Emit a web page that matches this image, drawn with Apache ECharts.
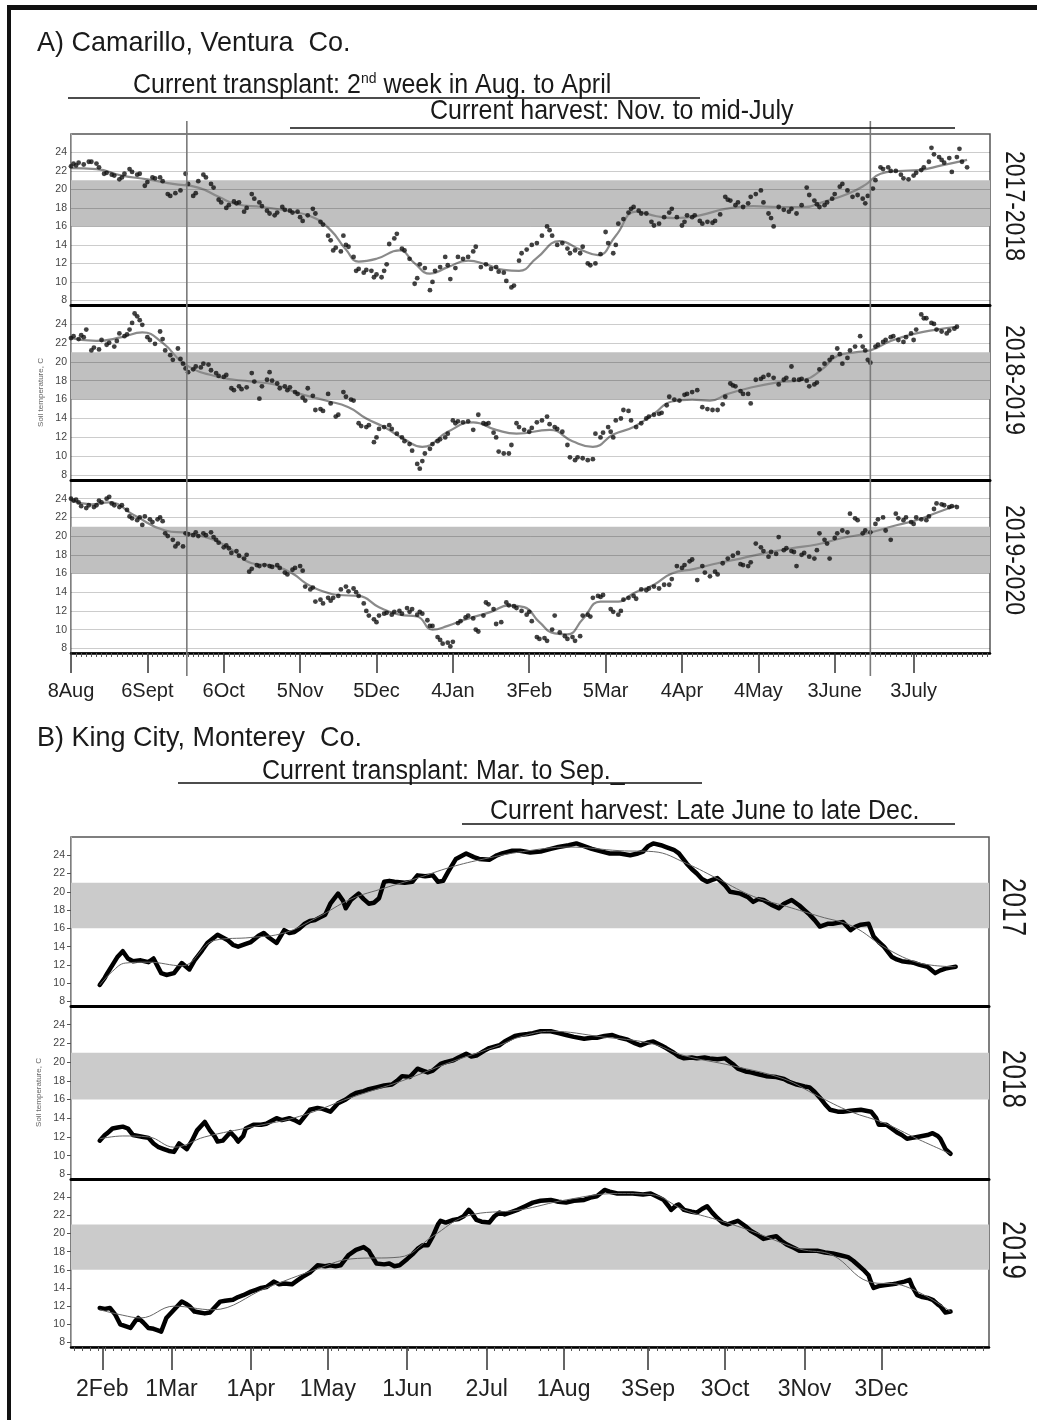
<!DOCTYPE html>
<html><head><meta charset="utf-8">
<script src="https://cdn.jsdelivr.net/npm/echarts@6/dist/echarts.min.js"></script>
<style>html,body{margin:0;padding:0;background:#fff;}#c{width:1037px;height:1420px;}</style>
</head><body><div id="c"></div>
<script>
// ---------------- DATA ----------------
// Panel A: Camarillo, x = days after 8 Aug
const aTickDays = [0,30,60,90,120,150,180,210,240,270,300,331];
const aTickLabels = ['8Aug','6Sept','6Oct','5Nov','5Dec','4Jan','3Feb','5Mar','4Apr','4May','3June','3July'];
const aSeasons = ['2017-2018','2018-2019','2019-2020'];
const aVerticalDays = [45.5, 314];

const a1Daily = [[0,22.5],[1,22.8],[2,22.6],[3,22.9],[5,22.7],[7,23.0],[8,23.0],[10,22.8],[11,22.4],[13,21.7],[14,21.8],[16,21.6],[17,21.5],[19,21.1],[20,21.3],[21,21.7],[23,22.2],[24,21.9],[26,21.6],[27,21.7],[29,20.4],[30,20.8],[32,21.3],[33,21.2],[35,21.3],[36,20.9],[38,19.5],[39,19.3],[41,19.6],[43,19.9],[45,21.7],[46,20.6],[48,19.3],[49,19.6],[50,20.9],[52,21.6],[53,21.3],[55,20.6],[56,20.2],[58,18.9],[59,18.6],[61,18.0],[62,18.3],[64,18.7],[65,18.5],[66,18.6],[68,17.6],[69,18.0],[71,19.5],[72,19.0],[74,18.6],[75,18.2],[77,17.7],[78,17.4],[80,17.2],[81,17.5],[83,18.1],[84,17.8],[86,17.7],[87,17.5],[89,17.6],[90,17.0],[91,16.6],[93,17.2],[95,17.9],[96,17.4],[98,16.5],[99,16.2],[101,15.0],[102,14.5],[103,13.4],[104,13.7],[106,13.3],[107,15.0],[108,14.0],[109,13.8],[111,12.7],[112,11.2],[113,11.4],[115,11.0],[116,11.3],[118,11.2],[119,10.5],[120,10.8],[122,10.5],[123,11.2],[124,11.9],[125,14.1],[127,14.7],[128,15.2],[130,13.6],[131,13.4],[133,12.5],[135,9.8],[136,10.4],[137,11.9],[139,11.5],[141,9.1],[142,10.0],[143,11.2],[145,11.6],[147,12.7],[148,11.8],[149,10.3],[151,11.5],[152,12.7],[154,12.5],[156,12.7],[158,13.3],[159,13.8],[161,11.6],[163,11.9],[165,11.4],[167,11.6],[168,11.1],[170,11.0],[171,10.1],[173,9.4],[174,9.6],[176,12.3],[177,13.1],[179,13.5],[181,14.0],[183,14.2],[185,15.0],[187,16.0],[188,15.6],[189,15.0],[191,14.0],[193,14.2],[195,13.6],[196,13.1],[198,13.4],[200,13.1],[201,13.8],[203,12.0],[204,11.8],[206,12.0],[208,13.0],[210,15.4],[211,14.2],[213,13.1],[214,14.0],[215,16.3],[217,16.8],[219,17.5],[220,17.9],[221,18.1],[223,17.7],[224,17.4],[226,17.4],[228,16.5],[229,16.1],[231,16.3],[233,17.0],[235,17.5],[236,17.9],[238,17.0],[240,16.1],[241,16.5],[242,17.2],[244,17.0],[245,17.2],[247,16.6],[248,16.3],[250,16.5],[252,16.4],[253,16.6],[255,17.3],[257,19.2],[258,18.9],[259,18.8],[261,18.3],[262,18.6],[264,18.1],[266,18.5],[267,19.2],[269,19.5],[271,19.9],[272,18.6],[274,17.4],[275,16.9],[276,16.0],[278,18.1],[280,17.8],[282,17.6],[283,17.9],[285,17.4],[287,18.3],[289,20.2],[290,19.4],[292,18.8],[293,18.4],[294,18.1],[296,18.3],[297,18.6],[299,19.0],[300,19.5],[302,20.3],[303,20.6],[305,19.9],[307,19.2],[309,19.4],[311,19.0],[312,18.5],[313,19.3],[315,20.1],[316,21.0],[318,22.4],[319,22.2],[321,22.4],[322,22.0],[324,22.0],[326,21.6],[327,21.2],[329,21.1],[331,21.5],[332,21.8],[334,22.1],[335,22.4],[337,23.0],[338,24.5],[339,23.8],[341,23.5],[342,23.2],[343,22.9],[345,23.4],[346,21.9],[348,23.5],[349,24.4],[350,23.0],[352,22.4]];
const a1Smooth = [[0,22.3],[10,22.2],[20,21.5],[30,21.1],[40,20.6],[50,20.2],[58,19.2],[65,18.4],[75,18.1],[85,17.7],[95,17.0],[102,15.6],[108,13.5],[113,12.2],[120,12.5],[129,13.4],[135,12.0],[141,10.9],[148,11.6],[156,12.3],[163,11.9],[170,11.3],[176,11.2],[183,12.6],[192,14.4],[200,13.5],[207,12.9],[214,15.0],[222,17.6],[230,17.1],[237,16.9],[247,17.2],[257,17.9],[268,18.2],[278,18.1],[288,18.1],[296,18.7],[305,19.5],[312,20.5],[318,21.7],[325,22.0],[333,22.1],[342,22.6],[352,23.2]];

const a2Daily = [[0,22.5],[1,22.7],[3,22.4],[4,22.8],[5,22.6],[6,23.4],[8,21.2],[9,21.5],[11,21.3],[12,22.3],[14,21.8],[15,22.0],[17,21.6],[18,22.2],[19,23.0],[21,22.7],[22,22.9],[23,23.4],[24,24.1],[25,25.1],[26,24.8],[27,24.4],[28,23.9],[30,22.6],[31,22.3],[33,21.9],[35,23.2],[36,22.4],[37,21.2],[39,20.7],[40,20.2],[42,21.4],[43,20.3],[44,19.8],[45,19.3],[46,18.9],[48,19.2],[49,19.5],[51,19.4],[52,19.8],[54,19.7],[55,19.1],[57,18.8],[58,18.5],[60,18.4],[61,18.6],[63,17.2],[64,17.0],[66,17.4],[67,17.1],[69,17.3],[71,18.8],[72,17.9],[74,16.1],[75,17.4],[77,18.1],[78,18.9],[79,18.0],[81,17.7],[82,17.2],[84,17.4],[85,17.0],[86,17.3],[88,16.8],[89,16.6],[91,16.2],[92,15.9],[93,17.2],[95,16.4],[96,14.9],[98,15.0],[99,14.8],[101,16.6],[102,15.6],[104,14.2],[105,14.4],[107,16.8],[108,16.3],[110,16.0],[111,15.9],[113,13.5],[114,13.2],[116,13.1],[117,13.3],[119,11.5],[120,12.0],[121,12.9],[123,13.1],[125,13.3],[126,12.9],[128,12.4],[130,12.0],[131,11.6],[133,11.3],[134,10.6],[136,9.2],[137,8.7],[138,9.5],[139,10.3],[141,10.8],[142,11.3],[144,11.6],[145,11.8],[147,12.0],[148,12.4],[150,13.8],[151,13.5],[152,13.7],[154,13.6],[156,13.7],[158,12.8],[160,14.4],[162,13.5],[163,13.4],[164,13.5],[166,12.5],[167,12.0],[168,10.5],[170,10.3],[172,10.3],[173,11.2],[175,13.5],[176,13.1],[178,12.8],[180,12.6],[181,13.0],[183,13.6],[185,13.8],[187,14.2],[188,13.4],[190,13.1],[191,12.9],[193,12.6],[195,11.2],[196,9.9],[198,9.6],[199,9.9],[201,9.8],[203,9.6],[205,9.7],[206,12.4],[208,12.0],[209,12.5],[211,13.1],[212,12.6],[213,12.0],[214,13.8],[216,14.0],[217,14.9],[219,14.8],[220,13.8],[222,13.1],[224,13.5],[226,14.0],[227,14.2],[229,14.4],[231,14.5],[232,14.6],[234,15.4],[235,16.3],[237,16.0],[239,15.9],[241,16.5],[242,16.6],[244,16.8],[246,17.0],[248,15.2],[250,15.0],[252,14.9],[254,14.9],[256,15.5],[257,16.3],[259,17.7],[260,17.5],[261,17.4],[263,16.9],[264,16.6],[266,16.6],[267,15.6],[269,18.1],[271,18.2],[272,18.4],[274,18.6],[276,18.3],[278,17.6],[280,18.1],[281,18.3],[283,19.5],[284,18.1],[286,18.1],[287,18.2],[289,18.0],[290,17.4],[292,17.6],[293,17.8],[294,19.2],[296,19.8],[298,20.2],[299,20.5],[301,21.4],[302,20.8],[303,19.8],[305,20.4],[306,21.2],[308,21.6],[310,22.7],[311,21.6],[312,21.2],[313,20.2],[314,19.9],[316,21.6],[317,21.8],[319,22.1],[320,22.3],[322,22.6],[323,22.7],[325,22.3],[327,22.1],[328,22.6],[330,23.0],[331,22.3],[332,23.4],[334,25.0],[335,24.6],[336,24.6],[338,24.1],[339,24.0],[340,23.4],[342,23.2],[344,23.0],[345,23.3],[347,23.5],[348,23.7]];
const a2Smooth = [[0,22.5],[10,22.2],[20,22.6],[28,23.1],[36,22.0],[45,19.7],[58,18.4],[71,17.9],[80,17.6],[89,16.7],[100,15.9],[109,15.2],[116,14.0],[123,13.1],[131,11.8],[138,11.0],[148,12.6],[158,13.6],[167,12.8],[175,12.4],[188,12.8],[197,11.6],[205,11.0],[213,12.3],[221,13.1],[229,14.5],[236,15.8],[244,16.0],[251,15.9],[258,16.6],[266,17.2],[277,17.8],[288,18.1],[295,19.2],[301,20.6],[308,21.0],[314,21.2],[322,22.2],[332,23.0],[340,23.4],[348,23.7]];

const a3Daily = [[0,24.0],[1,23.8],[2,23.9],[3,23.6],[4,23.2],[6,23.0],[7,23.3],[9,23.1],[10,23.3],[11,23.8],[12,23.6],[14,24.0],[15,24.2],[16,23.5],[17,23.3],[19,23.1],[20,23.3],[22,22.8],[23,22.1],[24,21.9],[26,21.7],[27,22.0],[28,21.2],[29,22.1],[31,21.8],[32,21.5],[34,21.8],[35,22.0],[36,21.6],[37,20.3],[38,20.0],[40,19.6],[41,18.9],[42,19.2],[44,18.9],[45,20.3],[46,20.2],[48,20.1],[49,20.4],[50,20.0],[52,20.3],[53,20.1],[55,20.4],[56,19.9],[57,19.6],[58,19.3],[60,18.8],[61,19.0],[62,18.7],[63,18.2],[65,18.4],[66,17.9],[68,17.6],[69,18.0],[70,16.2],[71,16.5],[73,16.9],[74,16.8],[76,16.9],[78,16.8],[79,16.7],[81,16.9],[82,16.6],[84,16.1],[85,15.9],[87,16.4],[88,16.6],[90,16.8],[91,16.3],[92,14.6],[94,14.3],[95,14.5],[96,13.0],[98,13.2],[99,12.8],[101,13.4],[102,13.1],[103,13.4],[105,13.6],[106,14.3],[108,14.6],[109,14.1],[111,14.4],[112,14.0],[113,13.6],[115,12.8],[116,12.0],[117,11.5],[119,11.1],[120,10.8],[121,11.5],[123,11.7],[124,11.8],[126,11.6],[127,11.9],[129,12.0],[130,11.7],[132,12.3],[133,11.9],[134,12.2],[136,11.6],[137,11.9],[138,11.7],[140,11.0],[141,10.4],[142,10.4],[144,9.2],[145,8.9],[146,8.5],[148,8.6],[149,8.2],[150,8.7],[152,10.7],[153,10.9],[155,11.3],[156,11.5],[158,11.2],[159,10.0],[160,9.8],[162,11.5],[163,12.9],[164,12.7],[166,12.2],[167,10.6],[169,10.8],[171,12.9],[172,12.6],[174,12.5],[175,12.3],[177,12.0],[179,11.6],[180,11.9],[181,10.9],[183,9.2],[184,9.0],[186,9.1],[187,8.8],[189,10.0],[190,11.5],[192,9.7],[194,9.3],[195,9.0],[197,9.2],[198,8.8],[200,9.3],[201,11.5],[203,11.6],[204,11.4],[205,13.4],[207,13.6],[208,13.5],[209,13.7],[212,12.2],[213,11.9],[215,11.6],[216,12.0],[217,13.2],[219,13.4],[221,13.6],[222,13.3],[224,14.3],[226,14.2],[227,14.4],[229,14.6],[231,14.4],[233,14.8],[235,14.8],[236,15.4],[238,16.8],[240,16.6],[241,16.9],[243,17.3],[244,17.5],[246,15.3],[248,16.8],[249,16.1],[251,15.7],[253,16.2],[254,15.9],[256,17.1],[258,17.6],[260,17.9],[262,18.2],[263,17.0],[264,16.9],[266,16.8],[267,17.2],[269,19.2],[271,18.8],[272,18.4],[274,17.8],[275,18.3],[277,18.1],[278,19.9],[280,18.5],[281,18.7],[283,18.4],[284,18.3],[285,16.8],[287,18.0],[288,18.2],[290,17.8],[292,17.6],[293,18.5],[294,20.3],[296,19.6],[297,19.2],[298,17.6],[300,19.8],[301,20.3],[303,20.6],[305,20.4],[306,22.4],[308,21.9],[309,21.7],[311,20.3],[312,20.6],[314,20.4],[316,21.3],[317,21.8],[319,22.0],[320,20.6],[322,19.6],[324,22.4],[325,21.9],[327,21.7],[328,22.0],[330,21.5],[331,21.3],[332,22.0],[334,21.8],[336,21.7],[337,22.1],[339,22.9],[340,23.5],[342,23.4],[343,23.3],[345,23.1],[346,23.2],[348,23.1]];
const a3Smooth = [[0,23.8],[8,23.4],[15,23.6],[25,22.2],[37,20.6],[46,20.3],[56,19.6],[64,18.4],[71,17.1],[80,16.8],[87,16.0],[92,15.0],[97,14.3],[105,13.7],[113,13.6],[121,12.4],[129,11.6],[136,11.4],[142,10.0],[148,10.4],[155,11.1],[165,11.9],[172,12.6],[178,12.4],[184,10.8],[190,9.6],[195,9.5],[201,11.1],[208,13.0],[215,13.0],[221,13.9],[229,14.8],[236,16.0],[245,16.5],[254,17.1],[263,17.6],[273,18.2],[283,18.7],[293,19.1],[303,19.8],[313,20.3],[322,21.0],[332,21.7],[340,22.5],[348,23.3]];

// Panel B: King City, x = day of year
const bTickDays = [32,59,90,120,151,182,212,245,275,306,336];
const bTickLabels = ['2Feb','1Mar','1Apr','1May','1Jun','2Jul','1Aug','3Sep','3Oct','3Nov','3Dec'];
const bYears = ['2017','2018','2019'];

const b1Line = [[31,9.8],[33,10.6],[34,11.1],[36,12.0],[38,12.9],[40,13.5],[42,12.7],[44,12.4],[47,12.5],[50,12.3],[52,12.7],[55,11.1],[57,10.9],[60,11.1],[63,12.2],[66,11.5],[68,12.5],[71,13.6],[73,14.4],[77,15.3],[79,15.0],[81,14.7],[83,14.2],[85,14.0],[88,14.3],[90,14.5],[93,15.2],[95,15.5],[97,15.0],[100,14.4],[103,15.8],[105,15.5],[107,15.6],[109,16.0],[111,16.5],[113,16.8],[115,16.9],[117,17.2],[119,17.5],[121,18.7],[124,19.8],[126,19.0],[127,18.2],[129,19.1],[132,19.8],[134,19.2],[136,18.7],[138,18.8],[140,19.3],[142,21.1],[144,21.2],[146,21.1],[150,21.0],[153,21.1],[155,21.8],[158,21.7],[161,21.8],[163,21.1],[165,21.2],[167,22.2],[170,23.6],[174,24.2],[177,23.8],[179,23.6],[183,23.5],[186,24.0],[188,24.2],[192,24.5],[195,24.5],[199,24.3],[203,24.4],[207,24.7],[210,24.9],[214,25.1],[217,25.3],[220,25.0],[223,24.7],[227,24.4],[230,24.2],[234,24.2],[238,24.0],[241,24.2],[243,24.4],[245,25.0],[247,25.3],[250,25.1],[252,24.9],[255,24.6],[257,24.2],[260,23.1],[262,22.5],[264,22.0],[266,21.4],[268,21.1],[270,21.3],[272,21.5],[275,20.7],[277,20.0],[281,19.8],[284,19.4],[286,18.9],[288,19.2],[290,19.1],[293,18.6],[296,18.2],[298,18.7],[301,19.1],[304,18.5],[306,18.0],[308,17.5],[310,16.9],[312,16.2],[315,16.5],[317,16.5],[319,16.6],[321,16.7],[324,15.8],[326,16.2],[328,16.4],[331,16.5],[333,15.1],[335,14.5],[337,14.0],[340,12.9],[342,12.6],[344,12.4],[347,12.3],[349,12.2],[351,12.0],[354,11.8],[357,11.1],[359,11.4],[361,11.6],[363,11.7],[365,11.8]];
const b1Smooth = [[31,9.8],[36,11.3],[41,12.2],[50,12.3],[63,11.9],[76,14.7],[90,15.0],[103,15.5],[116,17.2],[129,19.2],[142,20.4],[155,21.5],[168,22.7],[181,23.6],[196,24.4],[214,24.9],[234,24.5],[247,24.4],[260,23.1],[273,21.3],[286,19.5],[299,18.4],[312,17.3],[325,16.2],[338,13.8],[351,12.2],[365,11.8]];

const b2Line = [[31,11.6],[33,12.2],[34,12.4],[36,12.9],[38,13.0],[40,13.1],[42,12.9],[44,12.2],[46,12.1],[48,12.0],[50,11.9],[52,11.3],[54,10.9],[56,10.7],[58,10.5],[60,10.4],[62,11.3],[64,10.9],[65,10.7],[67,11.6],[69,12.7],[72,13.6],[74,12.7],[76,12.0],[77,11.5],[79,11.6],[82,12.5],[84,11.9],[85,11.5],[87,12.1],[88,12.9],[91,13.3],[94,13.3],[96,13.4],[98,13.7],[100,14.0],[102,13.8],[105,14.0],[107,13.8],[109,13.5],[111,14.2],[113,14.9],[116,15.1],[118,15.0],[121,14.7],[124,15.6],[127,16.0],[129,16.4],[131,16.7],[134,16.9],[136,17.1],[139,17.3],[142,17.5],[145,17.6],[147,18.0],[149,18.5],[152,18.4],[155,19.3],[157,19.1],[159,18.9],[161,19.1],[164,19.8],[166,20.0],[169,20.2],[171,20.5],[174,20.9],[176,20.6],[178,20.7],[181,21.2],[183,21.5],[187,21.8],[189,22.2],[191,22.5],[193,22.8],[195,22.9],[198,23.0],[200,23.1],[203,23.3],[207,23.3],[210,23.1],[213,22.9],[216,22.7],[220,22.5],[223,22.6],[225,22.6],[228,22.8],[231,22.9],[234,22.6],[237,22.4],[240,22.0],[242,21.8],[245,22.1],[247,22.2],[250,21.8],[252,21.5],[255,21.0],[257,20.6],[259,20.4],[262,20.5],[264,20.4],[267,20.5],[269,20.4],[272,20.3],[275,20.4],[278,19.8],[280,19.3],[283,19.0],[285,18.9],[288,18.7],[291,18.5],[295,18.4],[298,18.2],[300,17.9],[303,17.6],[306,17.4],[308,17.3],[310,16.8],[312,16.2],[314,15.5],[316,14.9],[319,14.7],[321,14.7],[324,14.8],[328,14.9],[330,14.8],[332,14.7],[334,14.0],[335,13.3],[337,13.3],[338,13.3],[340,12.9],[342,12.5],[344,12.2],[346,11.8],[348,11.9],[350,12.0],[352,12.1],[354,12.2],[356,12.4],[358,12.1],[359,11.8],[361,10.7],[363,10.2]];
const b2Smooth = [[31,11.8],[40,12.1],[50,12.0],[60,10.9],[72,12.0],[91,13.1],[109,14.2],[129,16.2],[149,18.0],[168,20.0],[187,21.8],[195,22.7],[207,23.3],[227,22.7],[246,22.0],[259,20.7],[278,19.6],[298,18.2],[311,16.4],[324,14.7],[337,13.5],[350,11.8],[363,10.2]];

const b3Line = [[31,11.8],[33,11.7],[35,11.8],[37,11.1],[39,10.0],[41,9.8],[43,9.6],[45,10.4],[46,10.7],[48,10.2],[50,9.6],[52,9.5],[54,9.3],[55,9.2],[57,10.7],[60,11.6],[62,12.2],[63,12.5],[65,12.2],[66,12.0],[68,11.4],[70,11.3],[72,11.2],[74,11.3],[76,11.9],[78,12.5],[80,12.6],[83,12.7],[85,13.0],[87,13.2],[90,13.6],[92,13.8],[94,14.0],[96,14.1],[99,14.7],[101,14.4],[103,14.5],[106,14.4],[108,14.8],[110,15.2],[113,15.7],[116,16.5],[119,16.4],[121,16.5],[123,16.4],[125,16.5],[128,17.6],[131,18.2],[134,18.5],[136,18.1],[137,17.6],[139,16.7],[142,16.6],[144,16.7],[146,16.4],[148,16.5],[151,17.2],[153,17.7],[155,18.3],[157,18.7],[159,18.7],[161,19.7],[163,21.0],[164,21.4],[166,21.2],[169,21.5],[171,21.6],[173,21.9],[175,22.6],[176,22.3],[178,21.5],[180,21.3],[183,21.2],[185,21.9],[187,22.3],[189,22.1],[191,22.3],[194,22.6],[197,23.0],[200,23.4],[203,23.6],[207,23.7],[210,23.5],[213,23.4],[216,23.6],[220,23.7],[223,24.0],[225,24.1],[228,24.8],[230,24.6],[233,24.4],[236,24.4],[239,24.4],[243,24.3],[246,24.4],[249,24.0],[251,23.7],[253,23.0],[254,22.6],[256,23.1],[257,23.2],[259,22.6],[262,22.4],[264,22.3],[266,22.7],[268,23.0],[270,22.3],[272,21.7],[274,21.2],[276,21.0],[278,21.2],[280,21.4],[283,20.8],[285,20.3],[288,19.8],[290,19.4],[293,19.6],[295,19.7],[297,19.2],[299,18.8],[302,18.4],[304,18.1],[308,18.1],[311,18.1],[314,17.9],[317,17.8],[320,17.6],[323,17.4],[325,17.0],[327,16.5],[329,16.0],[331,15.4],[332,14.6],[333,14.0],[335,14.2],[337,14.3],[340,14.4],[342,14.5],[345,14.7],[347,14.9],[348,14.2],[350,13.2],[352,13.0],[354,12.9],[356,12.7],[358,12.2],[359,12.0],[361,11.3],[363,11.4]];
const b3Smooth = [[31,11.6],[40,11.0],[47,10.7],[60,12.0],[75,11.6],[96,14.0],[116,16.1],[129,17.2],[148,17.4],[161,19.7],[174,21.9],[195,22.6],[213,23.7],[233,24.4],[246,24.3],[259,22.6],[272,21.5],[285,20.3],[304,18.3],[317,17.6],[331,14.7],[344,14.3],[363,11.4]];

const yTickValues = [8,10,12,14,16,18,20,22,24];
const bandRange = [16, 21];

// ---------------- CHART ----------------
const FONT = "'Liberation Sans', Arial, Helvetica, sans-serif";
const chart = echarts.init(document.getElementById('c'), null, {renderer: 'canvas'});

const panels = [
  {key:'A', xMin:0, xMax:361, ticks:aTickDays, labels:aTickLabels, labelSize:20, tickLen:20, labelMargin:28, minorSplit:50,
   band:'#c0c0c0', gridLines:true, left:71, width:919,
   rows:[{top:134,h:171,pts:a1Daily,sm:a1Smooth},{top:305,h:175,pts:a2Daily,sm:a2Smooth},{top:480,h:173,pts:a3Daily,sm:a3Smooth}]},
  {key:'B', xMin:19.8, xMax:378, ticks:bTickDays, labels:bTickLabels, labelSize:23, tickLen:23, labelMargin:31, minorSplit:33,
   band:'#cbcbcb', gridLines:false, left:71, width:918,
   rows:[{top:837,h:169,line:b1Line,sm:b1Smooth},{top:1006,h:173,line:b2Line,sm:b2Smooth},{top:1179,h:168,line:b3Line,sm:b3Smooth}]}
];

const grid=[], xAxis=[], yAxis=[], series=[];
let gi = 0;
panels.forEach(p => {
  const labelMap = {};
  p.ticks.forEach((t,i)=>{labelMap[t]=p.labels[i];});
  p.rows.forEach((r, ri) => {
    const bottom = ri === p.rows.length-1;
    grid.push({left:p.left, width:p.width, top:r.top, height:r.h, show:true, borderColor:'#555', borderWidth:1.5, backgroundColor:'transparent'});
    xAxis.push({type:'value', gridIndex:gi, min:p.xMin, max:p.xMax,
      axisLine:{show:true, onZero:false, lineStyle:{color:'#000', width: bottom?2.5:3}},
      axisTick:{show:bottom, customValues:p.ticks, length:p.tickLen, lineStyle:{color:'#333', width:1.5}},
      minorTick:{show:bottom, splitNumber:p.minorSplit, length:4, lineStyle:{color:'#555', width:1}},
      axisLabel:{show:bottom, customValues:p.ticks, fontFamily:FONT, fontSize:p.labelSize, color:'#222', margin:p.labelMargin,
        formatter:(v)=> (labelMap[v] !== undefined ? labelMap[v] : '')},
      splitLine:{show:false}});
    yAxis.push({type:'value', gridIndex:gi, min:7.5, max:26,
      axisLine:{show:true, lineStyle:{color:'#aaa', width:1}},
      axisTick:{show:p.key==='B', customValues:yTickValues, length:4, lineStyle:{color:'#555'}},
      axisLabel:{customValues:yTickValues, fontFamily:FONT, fontSize:10.5, color:'#444', margin:p.key==='B'?6:4},
      splitLine:{show:false},
      name: ri===1 ? 'Soil temperature, C' : '', nameLocation:'middle', nameGap:p.key==='B'?28:26, nameRotate:90,
      nameTextStyle:{fontFamily:FONT, fontSize:8, color:'#666'}});
    // background band and grid lines
    series.push({type:'line', xAxisIndex:gi, yAxisIndex:gi, data:[], silent:true, z:1,
      markArea:{silent:true, itemStyle:{color:p.band}, data:[[{yAxis:bandRange[0]},{yAxis:bandRange[1]}]]},
      markLine: p.gridLines ? {silent:true, symbol:['none','none'], label:{show:false},
        lineStyle:{type:'solid', color:'rgba(0,0,0,0.2)', width:1},
        data: yTickValues.map(v=>({yAxis:v}))} : undefined});
    if (p.key === 'A') {
      series.push({type:'line', xAxisIndex:gi, yAxisIndex:gi, data:r.sm, smooth:0.5, showSymbol:false, silent:true, z:3,
        lineStyle:{color:'#8a8a8a', width:2.2}});
      series.push({type:'scatter', xAxisIndex:gi, yAxisIndex:gi, data:r.pts, symbolSize:4.8, silent:true, z:4,
        itemStyle:{color:'#111'}});
    } else {
      series.push({type:'line', xAxisIndex:gi, yAxisIndex:gi, data:r.line, showSymbol:false, silent:true, z:3,
        lineStyle:{color:'#000', width:4.5, join:'round', cap:'round'}});
      series.push({type:'line', xAxisIndex:gi, yAxisIndex:gi, data:r.sm, smooth:0.4, showSymbol:false, silent:true, z:4,
        lineStyle:{color:'#666', width:1}});
    }
    gi++;
  });
});

chart.setOption({animation:false, backgroundColor:'#fff', grid, xAxis, yAxis, series});

// ---------- annotations ----------
const g = [];
// frame
g.push({type:'rect', shape:{x:7,y:5,width:4,height:1415}, style:{fill:'#111'}, z:100});
g.push({type:'rect', shape:{x:7,y:5,width:1030,height:5}, style:{fill:'#111'}, z:100});
function txt(x,y,text,size,opts){
  opts = opts||{};
  return {type:'text', x, y, z:100, scaleY:opts.sy||1, rotation:opts.rot||0,
    style:{text, fontFamily:FONT, fontSize:size, fill:'#1a1a1a', align:opts.align||'left', verticalAlign:'middle', rich:opts.rich}};
}
function hline(x1,x2,y){ return {type:'line', z:100, shape:{x1,y1:y,x2,y2:y}, style:{stroke:'#111', lineWidth:1.5}}; }
g.push(txt(37,43,'A) Camarillo, Ventura  Co.',27,{sy:1.05}));
g.push(txt(133,85,'Current transplant: 2{sup|nd} week in Aug. to April',25,{sy:1.1,
  rich:{sup:{fontSize:14, fontFamily:FONT, fill:'#1a1a1a', verticalAlign:'top', lineHeight:14}}}));
g.push(hline(68,700,98));
g.push(txt(430,111,'Current harvest: Nov. to mid-July',25,{sy:1.1}));
g.push(hline(290,955,128));
g.push(txt(37,738,'B) King City, Monterey  Co.',27,{sy:1.05}));
g.push(txt(262,771,'Current transplant: Mar. to Sep._',25,{sy:1.1}));
g.push(hline(178,702,783));
g.push(txt(490,811,'Current harvest: Late June to late Dec.',25,{sy:1.1}));
g.push(hline(462,955,824));
// row labels
const aLabelY = [206,380,560];
aSeasons.forEach((s,i)=>g.push(txt(1013,aLabelY[i],s,23,{align:'center',rot:-Math.PI/2,sy:1.18})));
const bLabelY = [907,1079,1250];
bYears.forEach((s,i)=>g.push(txt(1012,bLabelY[i],s,26,{align:'center',rot:-Math.PI/2,sy:1.3})));
// vertical reference lines in panel A (through the axis scale)
aVerticalDays.forEach(d=>{
  const px = chart.convertToPixel({xAxisIndex:0}, d);
  g.push({type:'line', z:50, shape:{x1:px,y1:121,x2:px,y2:676}, style:{stroke:'#7a7a7a', lineWidth:1.6}});
});
chart.setOption({graphic:g});
</script></body></html>
